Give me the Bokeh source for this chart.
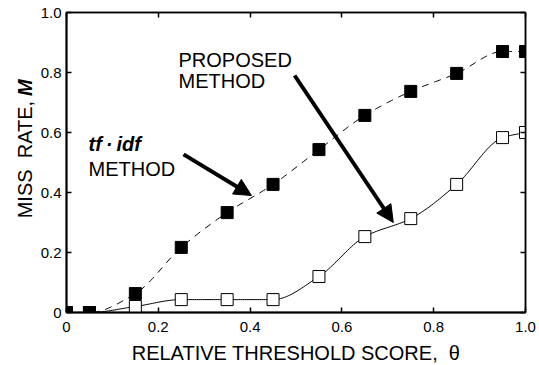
import numpy as np
from bokeh.plotting import figure
from bokeh.layouts import row
from bokeh.models import (Range1d, LinearAxis, FixedTicker, Label, Arrow, NormalHead)
from bokeh.embed import file_html
from bokeh.resources import INLINE

# ---- data ----
theta = [0.0, 0.05, 0.15, 0.25, 0.35, 0.45, 0.55, 0.65, 0.75, 0.85, 0.95, 1.0]
miss_tfidf = [0.0, 0.0, 0.063, 0.217, 0.333, 0.427, 0.543, 0.657, 0.737, 0.797, 0.87, 0.87]
miss_proposed = [0.0, 0.0, 0.02, 0.043, 0.043, 0.043, 0.12, 0.253, 0.313, 0.427, 0.583, 0.60]
tick_values = [0.0, 0.2, 0.4, 0.6, 0.8, 1.0]
tick_labels = ["0", "0.2", "0.4", "0.6", "0.8", "1.0"]

FONT = "Liberation Sans"


def smooth(xs, ys, n=24):
    """Monotone cubic (PCHIP) path through the data points, for drawing a smooth line."""
    x = np.asarray(xs, float)
    y = np.asarray(ys, float)
    h = np.diff(x)
    d = np.diff(y) / h
    m = np.zeros_like(y)
    m[0], m[-1] = d[0], d[-1]
    for k in range(1, len(x) - 1):
        if d[k - 1] * d[k] > 0:
            w1 = 2 * h[k] + h[k - 1]
            w2 = h[k] + 2 * h[k - 1]
            m[k] = (w1 + w2) / (w1 / d[k - 1] + w2 / d[k])
    ox, oy = [], []
    t = np.linspace(0, 1, n, endpoint=False)
    for k in range(len(x) - 1):
        h00 = 2 * t ** 3 - 3 * t ** 2 + 1
        h10 = t ** 3 - 2 * t ** 2 + t
        h01 = -2 * t ** 3 + 3 * t ** 2
        h11 = t ** 3 - t ** 2
        ox.extend(x[k] + t * h[k])
        oy.extend(h00 * y[k] + h10 * h[k] * m[k] + h01 * y[k + 1] + h11 * h[k] * m[k + 1])
    ox.append(x[-1])
    oy.append(y[-1])
    return ox, oy


p = figure(frame_width=459, frame_height=300, output_backend="svg", toolbar_location=None,
           x_range=Range1d(0, 1), y_range=Range1d(0, 1),
           min_border_left=27, min_border_right=13, min_border_top=12, min_border_bottom=51)
p.background_fill_color = "white"
p.border_fill_color = "white"
p.grid.visible = False
p.outline_line_color = "black"
p.outline_line_width = 1.5

# axes
for ax in (p.xaxis[0], p.yaxis[0]):
    ax.ticker = FixedTicker(ticks=tick_values)
    ax.major_label_overrides = dict(zip(tick_values, tick_labels))
    ax.major_tick_in = 5
    ax.major_tick_out = 0
    ax.minor_tick_in = 0
    ax.minor_tick_out = 0
    ax.axis_line_width = 2
    ax.major_tick_line_width = 1.5
    ax.major_label_text_font = FONT
    ax.major_label_text_font_size = "15px"
    ax.major_label_text_color = "black"
p.xaxis.major_label_standoff = 9
p.yaxis.major_label_standoff = 5
p.xaxis.axis_label = "RELATIVE THRESHOLD SCORE,\u00a0 \u03b8"
p.xaxis.axis_label_text_font = FONT
p.xaxis.axis_label_text_font_size = "20px"
p.xaxis.axis_label_text_font_style = "normal"
p.xaxis.axis_label_text_color = "black"
p.xaxis.axis_label_standoff = 7

for loc in ("above", "right"):
    ax = LinearAxis(ticker=FixedTicker(ticks=tick_values), major_tick_in=5, major_tick_out=0,
                    minor_tick_in=0, minor_tick_out=0, major_label_text_font_size="0px",
                    axis_line_width=1.5, major_tick_line_width=1.5)
    ax.major_label_overrides = {v: "" for v in tick_values}
    p.add_layout(ax, loc)

# curves
sx, sy = smooth(theta, miss_tfidf)
p.line(sx, sy, line_color="black", line_width=1, line_dash="7 6")
px, py = smooth(theta, miss_proposed)
p.line(px, py, line_color="black", line_width=1)

p.scatter(theta, miss_proposed, marker="square", size=12, fill_color="white", line_color="black",
          line_width=1)
p.scatter(theta, miss_tfidf, marker="square", size=12, fill_color="black", line_color="black")


# annotations
def lab(x, y, text, style="normal"):
    p.add_layout(Label(x=x, y=y, text=text, text_font=FONT, text_font_size="20px",
                       text_font_style=style, text_color="black", text_baseline="alphabetic"))


lab(0.048, 0.563, "tf\u2009\u00b7\u2009idf", "bold italic")
lab(0.048, 0.48, "METHOD")
lab(0.244, 0.843, "PROPOSED")
lab(0.244, 0.773, "METHOD")

for (x0, y0, x1, y1) in [(0.255, 0.527, 0.403, 0.39), (0.497, 0.79, 0.712, 0.30)]:
    p.add_layout(Arrow(x_start=x0, y_start=y0, x_end=x1, y_end=y1, line_width=4, line_color="black",
                       end=NormalHead(size=17, fill_color="black", line_color="black", line_width=1)))

# y-axis title (mixed styles) in a narrow side panel, pixel coordinates
TW, TH = 37, 363
t = figure(width=TW, height=TH, output_backend="svg", toolbar_location=None,
           x_range=Range1d(0, TW), y_range=Range1d(TH, 0),
           min_border_left=0, min_border_right=0, min_border_top=0, min_border_bottom=0)
t.axis.visible = False
t.grid.visible = False
t.outline_line_color = None
t.background_fill_color = "white"
t.border_fill_color = "white"
t.add_layout(Label(x=24.5, y=108, text="MISS\u00a0 RATE,", angle=np.pi / 2, text_align="right",
                   text_baseline="middle", text_font=FONT, text_font_size="20px",
                   text_color="black"))
t.add_layout(Label(x=24.5, y=102, text="M", angle=np.pi / 2, text_align="left",
                   text_baseline="middle", text_font=FONT, text_font_size="20px",
                   text_font_style="bold italic", text_color="black"))

layout = row(t, p, spacing=0)
open("out.html", "w").write(file_html(layout, INLINE))
